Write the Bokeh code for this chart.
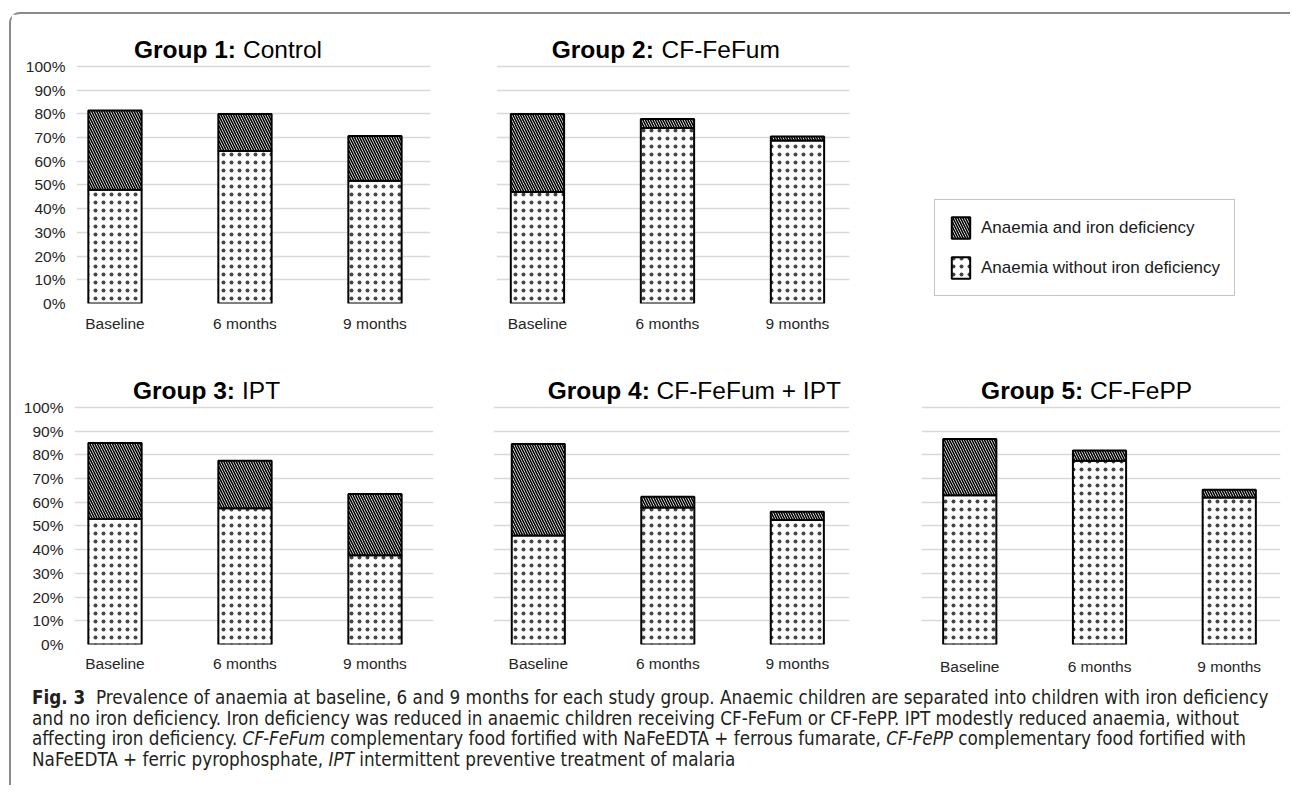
from bokeh.plotting import figure
from bokeh.layouts import row, column
from bokeh.models import (FixedTicker, Range1d, Label, Legend, LegendItem, Div,
                          ColumnDataSource, PrintfTickFormatter)
from bokeh.embed import file_html
from bokeh.resources import INLINE

# ---------------- data ----------------
categories = ["Baseline", "6 months", "9 months"]
y_ticks = [0, 10, 20, 30, 40, 50, 60, 70, 80, 90, 100]
series_labels = ["Anaemia and iron deficiency", "Anaemia without iron deficiency"]

group_bold = ["Group 1:", "Group 2:", "Group 3:", "Group 4:", "Group 5:"]
group_names = ["Control", "CF-FeFum", "IPT", "CF-FeFum + IPT", "CF-FePP"]

# anaemia without iron deficiency (%), dotted lower segment
g1_without = [48.0, 64.3, 51.8]
g2_without = [47.0, 74.0, 68.8]
g3_without = [52.9, 57.5, 37.7]
g4_without = [46.0, 57.8, 52.5]
g5_without = [63.0, 77.5, 62.0]
# anaemia and iron deficiency (%), hatched upper segment
g1_with = [33.4, 15.7, 18.9]
g2_with = [33.0, 3.8, 1.7]
g3_with = [32.1, 20.0, 25.8]
g4_with = [38.6, 4.5, 3.5]
g5_with = [23.7, 4.4, 3.3]

FONT = "Liberation Sans"
Y_END = 118.14
TITLE_Y = 107

HATCH = dict(hatch_pattern=["dot", "left_diagonal_line"], hatch_color=["#444444", "black"],
             hatch_scale=[8, 5], hatch_weight=[0.1, 1.6])


def panel(idx, without, with_, width, height, mbl, mbr, mbt, mbb, xr, show_y,
          title_x, x_standoff, grid_span=None):
    p = figure(width=width, height=height, x_range=Range1d(*xr),
               y_range=Range1d(0, Y_END), output_backend="svg",
               toolbar_location=None, min_border_left=mbl, min_border_right=mbr,
               min_border_top=mbt, min_border_bottom=mbb)
    p.outline_line_color = None
    p.background_fill_color = "white"
    p.border_fill_color = "white"
    p.xgrid.visible = False
    p.ygrid.ticker = FixedTicker(ticks=y_ticks)
    p.ygrid.grid_line_color = "#d9d9d9"
    p.ygrid.grid_line_width = 1.3
    if grid_span is not None:
        p.ygrid.cross_bounds = grid_span

    p.yaxis.ticker = FixedTicker(ticks=y_ticks)
    p.yaxis.formatter = PrintfTickFormatter(format="%d%%")
    p.yaxis.axis_line_color = None
    p.yaxis.major_tick_line_color = None
    p.yaxis.minor_tick_line_color = None
    p.yaxis.major_tick_out = 0
    p.yaxis.major_label_standoff = 11
    p.yaxis.major_label_text_font = FONT
    p.yaxis.major_label_text_font_size = "15.5px"
    p.yaxis.major_label_text_color = "#262626"
    p.yaxis.visible = show_y

    p.xaxis.ticker = FixedTicker(ticks=[0, 1, 2])
    p.xaxis.major_label_overrides = {i: c for i, c in enumerate(categories)}
    p.xaxis.axis_line_color = None
    p.xaxis.major_tick_line_color = None
    p.xaxis.minor_tick_line_color = None
    p.xaxis.major_tick_out = 0
    p.xaxis.major_label_standoff = x_standoff
    p.xaxis.major_label_text_font = FONT
    p.xaxis.major_label_text_font_size = "15.5px"
    p.xaxis.major_label_text_color = "#262626"

    src = ColumnDataSource(dict(x=[0, 1, 2], without=without, with_=with_))
    rends = p.vbar_stack(["without", "with_"], x="x", width=0.41, source=src,
                         fill_color="white", line_color="black", line_width=2, **HATCH)

    p.add_layout(Label(x=title_x[0], y=TITLE_Y, text=group_bold[idx], text_align="right",
                       text_baseline="alphabetic", text_font=FONT, text_font_size="24.5px",
                       text_font_style="bold", text_color="black"))
    p.add_layout(Label(x=title_x[1], y=TITLE_Y, text=group_names[idx], text_align="left",
                       text_baseline="alphabetic", text_font=FONT, text_font_size="24.5px",
                       text_color="black"))
    return p, rends


f1, _ = panel(0, g1_without, g1_with, 452, 331, 65, 33, 9, 42, (-0.296, 2.427), True,
              (0.931, 0.985), 11)
# group 2 panel's frame runs on to the right so that it can hold the shared legend;
# its gridlines stop where the group 2 chart ends
f2, (r_without, r_with) = panel(1, g2_without, g2_with, 827, 331, 33, 0, 9, 42,
                                (-0.315, 5.792), False, (0.895, 0.954), 11,
                                grid_span=(-0.315, 2.4))
f3, _ = panel(2, g3_without, g3_with, 452, 337, 63, 30, 19, 38, (-0.3115, 2.45), True,
              (0.923, 0.977), 10)
f4, _ = panel(3, g4_without, g4_with, 422, 337, 30, 36, 19, 38, (-0.346, 2.403), False,
              (0.861, 0.913), 10)
f5, _ = panel(4, g5_without, g5_with, 405, 337, 36, 10, 19, 38, (-0.372, 2.395), False,
              (0.874, 0.927), 13)

leg = Legend(items=[LegendItem(label=series_labels[0], renderers=[r_with]),
                    LegendItem(label=series_labels[1], renderers=[r_without])],
             location=(438, 7), padding=14, spacing=13, glyph_width=23, glyph_height=27,
             label_standoff=9, label_text_font=FONT, label_text_font_size="17px",
             label_text_color="#1a1a1a", border_line_color="#8c8c8c", border_line_width=1,
             background_fill_color="white", background_fill_alpha=1, margin=0)
f2.add_layout(leg)

# ---------------- caption ----------------
caption_html = (
    "<div style=\"font-family:'Liberation Sans Narrow','DejaVu Sans Condensed','Open Sans Condensed','Roboto Condensed',sans-serif;"
    "font-stretch:condensed;font-size:18.7px;line-height:20.7px;color:#231f20;"
    "padding-left:21px;padding-top:6px;white-space:nowrap;\">"
    "<b>Fig.&nbsp;3</b>&nbsp;&nbsp;Prevalence of anaemia at baseline, 6 and 9 months for each study group. "
    "Anaemic children are separated into children with iron deficiency<br>"
    "and no iron deficiency. Iron deficiency was reduced in anaemic children receiving CF-FeFum or CF-FePP. "
    "IPT modestly reduced anaemia, without<br>"
    "affecting iron deficiency. <i>CF-FeFum</i> complementary food fortified with NaFeEDTA + ferrous fumarate, "
    "<i>CF-FePP</i> complementary food fortified with<br>"
    "NaFeEDTA + ferric pyrophosphate, <i>IPT</i> intermittent preventive treatment of malaria"
    "</div>"
)
cap = Div(text=caption_html, width=1279, height=103, margin=0)

root = column(row(f1, f2, spacing=0), row(f3, f4, f5, spacing=0), cap, spacing=0,
              margin=(12, 0, 0, 9),
              styles={"border-top": "2px solid #8a8a8a", "border-left": "2px solid #8a8a8a",
                      "border-top-left-radius": "11px"})

open("out.html", "w").write(file_html(root, INLINE))
